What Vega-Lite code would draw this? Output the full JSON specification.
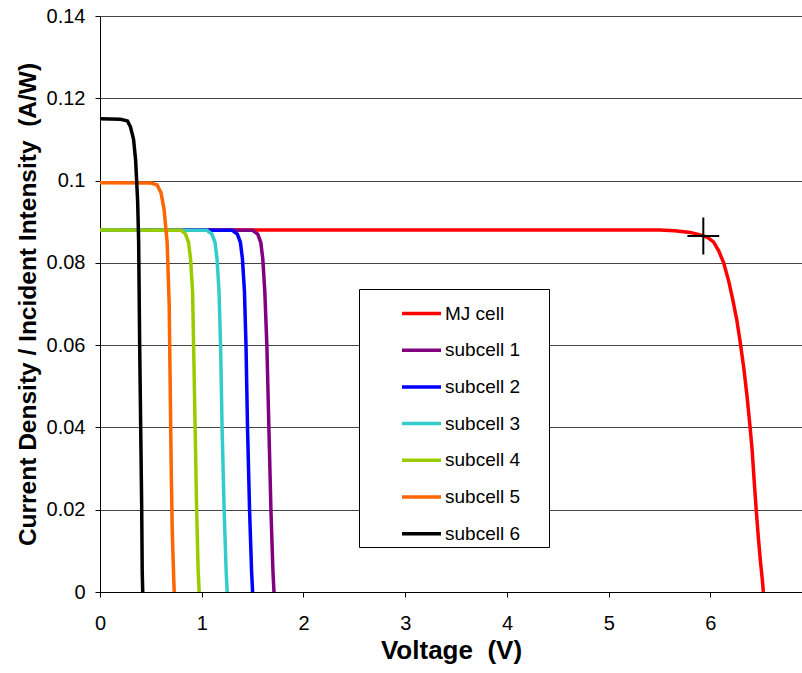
{
  "$schema": "https://vega.github.io/schema/vega-lite/v6.json",
  "width": 702,
  "height": 576,
  "autosize": "none",
  "padding": {"left": 100, "top": 16, "right": 0, "bottom": 81},
  "background": "white",
  "config": {
    "view": {"stroke": null},
    "font": "Liberation Sans",
    "axis": {"labelFont": "Liberation Sans", "titleFont": "Liberation Sans", "labelColor": "black", "titleColor": "black", "domainColor": "black", "tickColor": "black"}
  },
  "datasets": {
    "curves": [
      {"series": "MJ cell", "v": 0, "j": 0.088},
      {"series": "MJ cell", "v": 5.5, "j": 0.0880},
      {"series": "MJ cell", "v": 5.65, "j": 0.0878},
      {"series": "MJ cell", "v": 5.8, "j": 0.0874},
      {"series": "MJ cell", "v": 5.9, "j": 0.0868},
      {"series": "MJ cell", "v": 5.97, "j": 0.0862},
      {"series": "MJ cell", "v": 6.03, "j": 0.0851},
      {"series": "MJ cell", "v": 6.08, "j": 0.083},
      {"series": "MJ cell", "v": 6.13, "j": 0.080},
      {"series": "MJ cell", "v": 6.18, "j": 0.0755},
      {"series": "MJ cell", "v": 6.22, "j": 0.071},
      {"series": "MJ cell", "v": 6.26, "j": 0.066},
      {"series": "MJ cell", "v": 6.29, "j": 0.0612},
      {"series": "MJ cell", "v": 6.33, "j": 0.054},
      {"series": "MJ cell", "v": 6.36, "j": 0.0475},
      {"series": "MJ cell", "v": 6.39, "j": 0.040},
      {"series": "MJ cell", "v": 6.41, "j": 0.0345},
      {"series": "MJ cell", "v": 6.43, "j": 0.027},
      {"series": "MJ cell", "v": 6.45, "j": 0.0199},
      {"series": "MJ cell", "v": 6.47, "j": 0.0135},
      {"series": "MJ cell", "v": 6.49, "j": 0.0078},
      {"series": "MJ cell", "v": 6.51, "j": 0.003},
      {"series": "MJ cell", "v": 6.52, "j": 0},

      {"series": "subcell 1", "v": 0, "j": 0.088},
      {"series": "subcell 1", "v": 1.5, "j": 0.0879},
      {"series": "subcell 1", "v": 1.55, "j": 0.087},
      {"series": "subcell 1", "v": 1.58, "j": 0.085},
      {"series": "subcell 1", "v": 1.6, "j": 0.081},
      {"series": "subcell 1", "v": 1.62, "j": 0.073},
      {"series": "subcell 1", "v": 1.64, "j": 0.06},
      {"series": "subcell 1", "v": 1.66, "j": 0.04},
      {"series": "subcell 1", "v": 1.68, "j": 0.02},
      {"series": "subcell 1", "v": 1.70, "j": 0.005},
      {"series": "subcell 1", "v": 1.71, "j": 0},

      {"series": "subcell 2", "v": 0, "j": 0.088},
      {"series": "subcell 2", "v": 1.3, "j": 0.0879},
      {"series": "subcell 2", "v": 1.35, "j": 0.087},
      {"series": "subcell 2", "v": 1.38, "j": 0.085},
      {"series": "subcell 2", "v": 1.4, "j": 0.081},
      {"series": "subcell 2", "v": 1.42, "j": 0.073},
      {"series": "subcell 2", "v": 1.435, "j": 0.06},
      {"series": "subcell 2", "v": 1.45, "j": 0.04},
      {"series": "subcell 2", "v": 1.47, "j": 0.02},
      {"series": "subcell 2", "v": 1.49, "j": 0.005},
      {"series": "subcell 2", "v": 1.5, "j": 0},

      {"series": "subcell 3", "v": 0, "j": 0.088},
      {"series": "subcell 3", "v": 1.05, "j": 0.0879},
      {"series": "subcell 3", "v": 1.1, "j": 0.087},
      {"series": "subcell 3", "v": 1.13, "j": 0.085},
      {"series": "subcell 3", "v": 1.15, "j": 0.081},
      {"series": "subcell 3", "v": 1.17, "j": 0.073},
      {"series": "subcell 3", "v": 1.185, "j": 0.06},
      {"series": "subcell 3", "v": 1.2, "j": 0.04},
      {"series": "subcell 3", "v": 1.22, "j": 0.02},
      {"series": "subcell 3", "v": 1.24, "j": 0.005},
      {"series": "subcell 3", "v": 1.25, "j": 0},

      {"series": "subcell 4", "v": 0, "j": 0.088},
      {"series": "subcell 4", "v": 0.8, "j": 0.0879},
      {"series": "subcell 4", "v": 0.84, "j": 0.087},
      {"series": "subcell 4", "v": 0.87, "j": 0.085},
      {"series": "subcell 4", "v": 0.89, "j": 0.081},
      {"series": "subcell 4", "v": 0.91, "j": 0.073},
      {"series": "subcell 4", "v": 0.92, "j": 0.06},
      {"series": "subcell 4", "v": 0.935, "j": 0.04},
      {"series": "subcell 4", "v": 0.95, "j": 0.02},
      {"series": "subcell 4", "v": 0.965, "j": 0.005},
      {"series": "subcell 4", "v": 0.975, "j": 0},

      {"series": "subcell 5", "v": 0, "j": 0.0995},
      {"series": "subcell 5", "v": 0.5, "j": 0.0994},
      {"series": "subcell 5", "v": 0.56, "j": 0.099},
      {"series": "subcell 5", "v": 0.6, "j": 0.097},
      {"series": "subcell 5", "v": 0.63, "j": 0.093},
      {"series": "subcell 5", "v": 0.66, "j": 0.085},
      {"series": "subcell 5", "v": 0.68, "j": 0.07},
      {"series": "subcell 5", "v": 0.69, "j": 0.05},
      {"series": "subcell 5", "v": 0.7, "j": 0.03},
      {"series": "subcell 5", "v": 0.71, "j": 0.015},
      {"series": "subcell 5", "v": 0.725, "j": 0.003},
      {"series": "subcell 5", "v": 0.73, "j": 0},

      {"series": "subcell 6", "v": 0, "j": 0.115},
      {"series": "subcell 6", "v": 0.2, "j": 0.1149},
      {"series": "subcell 6", "v": 0.27, "j": 0.1145},
      {"series": "subcell 6", "v": 0.3, "j": 0.113},
      {"series": "subcell 6", "v": 0.33, "j": 0.11},
      {"series": "subcell 6", "v": 0.35, "j": 0.105},
      {"series": "subcell 6", "v": 0.37, "j": 0.095},
      {"series": "subcell 6", "v": 0.38, "j": 0.085},
      {"series": "subcell 6", "v": 0.39, "j": 0.06},
      {"series": "subcell 6", "v": 0.40, "j": 0.04},
      {"series": "subcell 6", "v": 0.41, "j": 0.02},
      {"series": "subcell 6", "v": 0.415, "j": 0.005},
      {"series": "subcell 6", "v": 0.42, "j": 0}
    ],
    "mpp": [{"v": 5.93, "j": 0.0865}]
  },
  "layer": [
    {
      "data": {"name": "curves"},
      "mark": {"type": "line", "strokeWidth": 3.5, "clip": false},
      "encoding": {
        "x": {
          "field": "v", "type": "quantitative",
          "scale": {"domain": [0, 6.9], "nice": false, "zero": false},
          "axis": {
            "title": "Voltage\u00a0 (V)", "values": [0, 1, 2, 3, 4, 5, 6], "format": "d", "grid": false,
            "labelFlush": false,
            "labelFontSize": 20, "labelPadding": 16, "tickSize": 5,
            "titleFontSize": 26, "titleFontWeight": "bold", "titlePadding": 4,
            "domainWidth": 1
          }
        },
        "y": {
          "field": "j", "type": "quantitative",
          "scale": {"domain": [0, 0.14], "nice": false},
          "axis": {
            "title": "Current Density / Incident Intensity\u00a0 (A/W)",
            "values": [0, 0.02, 0.04, 0.06, 0.08, 0.1, 0.12, 0.14],
            "format": ".2~f", "labelFlush": false,
            "grid": true, "gridColor": "#444", "gridWidth": 1,
            "labelFontSize": 20, "labelPadding": 10, "tickSize": 5,
            "titleFontSize": 24.5, "titleFontWeight": "bold", "titlePadding": 6
          }
        },
        "color": {
          "field": "series", "type": "nominal",
          "scale": {
            "domain": ["MJ cell", "subcell 1", "subcell 2", "subcell 3", "subcell 4", "subcell 5", "subcell 6"],
            "range": ["#FF0000", "#800080", "#0000FF", "#33CCCC", "#99CC00", "#FF6600", "#000000"]
          },
          "legend": {
            "orient": "none", "legendX": 259, "legendY": 273,
            "title": "\u00a0", "titleOrient": "right", "titlePadding": 26, "titleFontSize": 4,
            "strokeColor": "black", "fillColor": "white", "padding": 3,
            "symbolType": "stroke", "symbolSize": 1521, "symbolStrokeWidth": 3.5,
            "symbolOffset": 38, "labelOffset": 2, "labelFontSize": 19,
            "labelFont": "Liberation Sans", "labelColor": "black", "rowPadding": 4.7
          }
        }
      }
    },
    {
      "data": {"name": "mpp"},
      "mark": {"type": "point", "shape": "M-0.86,0H0.86M0,-1V1", "size": 1369, "filled": false, "stroke": "black", "strokeWidth": 2, "opacity": 1},
      "encoding": {
        "x": {"field": "v", "type": "quantitative"},
        "y": {"field": "j", "type": "quantitative"}
      }
    }
  ]
}
